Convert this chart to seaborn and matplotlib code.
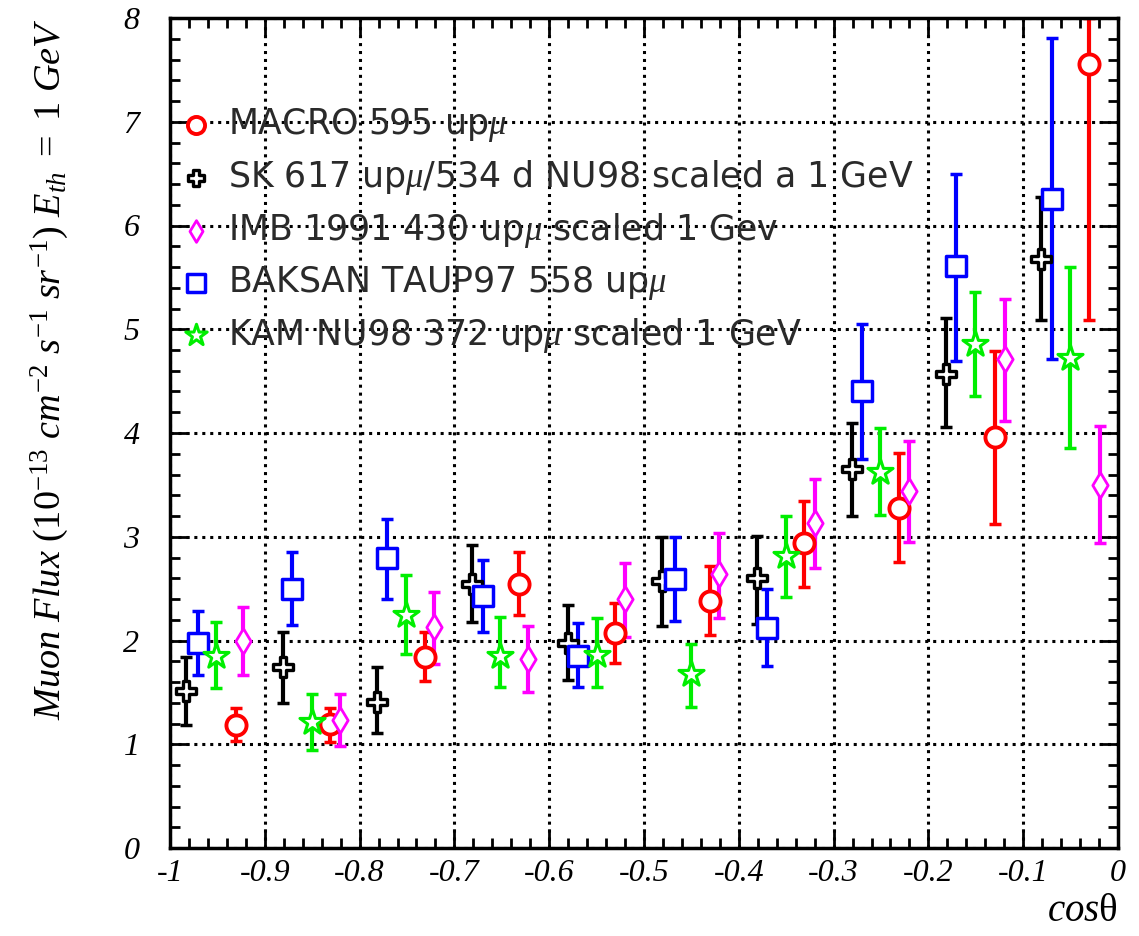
import numpy as np
import matplotlib
matplotlib.use("Agg")
import matplotlib.pyplot as plt
import seaborn as sns
from matplotlib.ticker import MultipleLocator

# ---- measurements: cos(theta), flux, lower / upper error-bar ends ----
macro_x = [-0.930, -0.831, -0.731, -0.632, -0.531, -0.430, -0.331, -0.231, -0.130, -0.031]
macro_y = [1.19, 1.20, 1.84, 2.54, 2.07, 2.38, 2.94, 3.28, 3.96, 7.56]
macro_lo = [1.03, 1.02, 1.61, 2.25, 1.78, 2.05, 2.52, 2.76, 3.12, 5.09]
macro_hi = [1.35, 1.35, 2.08, 2.85, 2.36, 2.72, 3.34, 3.81, 4.79, 8.00]

sk_x = [-0.983, -0.881, -0.782, -0.681, -0.580, -0.481, -0.381, -0.281, -0.181, -0.081]
sk_y = [1.51, 1.74, 1.41, 2.54, 1.98, 2.57, 2.60, 3.65, 4.57, 5.68]
sk_lo = [1.19, 1.40, 1.11, 2.18, 1.62, 2.14, 2.16, 3.20, 4.06, 5.09]
sk_hi = [1.84, 2.08, 1.74, 2.92, 2.34, 3.00, 3.01, 4.10, 5.11, 6.27]

imb_x = [-0.923, -0.821, -0.721, -0.622, -0.520, -0.421, -0.320, -0.220, -0.119, -0.019]
imb_y = [2.00, 1.23, 2.13, 1.82, 2.40, 2.64, 3.13, 3.44, 4.71, 3.50]
imb_lo = [1.67, 0.98, 1.77, 1.50, 2.03, 2.22, 2.70, 2.95, 4.12, 2.94]
imb_hi = [2.32, 1.48, 2.47, 2.14, 2.75, 3.04, 3.56, 3.92, 5.29, 4.07]

baksan_x = [-0.970, -0.871, -0.771, -0.670, -0.570, -0.467, -0.370, -0.270, -0.171, -0.070]
baksan_y = [1.98, 2.50, 2.80, 2.43, 1.85, 2.59, 2.12, 4.40, 5.61, 6.26]
baksan_lo = [1.67, 2.15, 2.40, 2.08, 1.55, 2.19, 1.75, 3.75, 4.69, 4.71]
baksan_hi = [2.28, 2.85, 3.17, 2.78, 2.17, 3.00, 2.50, 5.05, 6.50, 7.81]

kam_x = [-0.951, -0.850, -0.751, -0.652, -0.550, -0.450, -0.350, -0.251, -0.151, -0.051]
kam_y = [1.85, 1.21, 2.25, 1.85, 1.86, 1.68, 2.81, 3.62, 4.86, 4.72]
kam_lo = [1.54, 0.94, 1.87, 1.55, 1.55, 1.36, 2.42, 3.21, 4.36, 3.86]
kam_hi = [2.18, 1.48, 2.63, 2.23, 2.22, 1.97, 3.20, 4.05, 5.36, 5.60]

labels = [
    r"MACRO 595 up$\mu$",
    r"SK 617 up$\mu$/534 d NU98 scaled a 1 GeV",
    r"IMB 1991 430 up$\mu$ scaled 1 Gev",
    r"BAKSAN TAUP97 558 up$\mu$",
    r"KAM NU98 372 up$\mu$ scaled 1 GeV",
]

x_ticks = [-1.0, -0.9, -0.8, -0.7, -0.6, -0.5, -0.4, -0.3, -0.2, -0.1, 0.0]
x_tick_labels = ["-1", "-0.9", "-0.8", "-0.7", "-0.6", "-0.5", "-0.4", "-0.3", "-0.2", "-0.1", "0"]
y_ticks = [0, 1, 2, 3, 4, 5, 6, 7, 8]
y_tick_labels = ["0", "1", "2", "3", "4", "5", "6", "7", "8"]

# ---- style ----
sns.set_theme(style="white")
plt.rcParams.update({
    "font.family": ["DejaVu Sans"],
    "mathtext.fontset": "custom",
    "mathtext.rm": "Liberation Serif",
    "mathtext.it": "Liberation Serif:italic",
    "mathtext.bf": "Liberation Serif:bold",
})

fig = plt.figure(figsize=(11.39, 9.36), dpi=100)
fig.patch.set_facecolor("white")
ax = fig.add_axes([170 / 1139, 1 - 848 / 936, 948 / 1139, 830 / 936])
ax.set_facecolor("white")

ax.grid(True, which="major", color="black", linestyle=(0, (1, 1.6)), linewidth=2.2)
ax.set_axisbelow(True)

series = [
    (macro_x, macro_y, macro_lo, macro_hi),
    (sk_x, sk_y, sk_lo, sk_hi),
    (imb_x, imb_y, imb_lo, imb_hi),
    (baksan_x, baksan_y, baksan_lo, baksan_hi),
    (kam_x, kam_y, kam_lo, kam_hi),
]
colors = ["#ff0000", "#000000", "#ff00ff", "#0000ff", "#00ee00"]
markers = ["o", "P", "d", "s", "*"]
msizes = [14.5, 14, 13, 15, 19]
mwidths = [2.8, 2.4, 2.0, 2.5, 2.2]

handles = []
for (xs, ys, lo, hi), c, m, ms, mw, lab in zip(series, colors, markers, msizes, mwidths, labels):
    xs = np.asarray(xs)
    ys = np.asarray(ys)
    yerr = [ys - np.asarray(lo), np.asarray(hi) - ys]
    ax.errorbar(xs, ys, yerr=yerr, fmt="none", ecolor=c, elinewidth=3,
                capsize=4.5, capthick=2.5, zorder=2)
    sns.scatterplot(x=xs, y=ys, marker=m, s=ms ** 2, color=c, facecolor="white",
                    edgecolor=c, linewidth=mw, zorder=3, ax=ax, legend=False, label=lab)
    handles.append(ax.collections[-1])

ax.set_xlim(-1, 0)
ax.set_ylim(0, 8)
ax.set_xticks(x_ticks, x_tick_labels)
ax.set_yticks(y_ticks, y_tick_labels)
ax.xaxis.set_minor_locator(MultipleLocator(0.02))
ax.yaxis.set_minor_locator(MultipleLocator(0.2))
ax.tick_params(which="both", direction="in", top=True, right=True,
               bottom=True, left=True, color="black")
ax.tick_params(which="major", length=14, width=2)
ax.tick_params(which="minor", length=7, width=2)
ax.tick_params(axis="y", pad=22)
ax.tick_params(axis="x", pad=8)
for t in ax.get_xticklabels() + ax.get_yticklabels():
    t.set_fontfamily("Liberation Serif")
    t.set_fontstyle("italic")
    t.set_fontsize(23)
    t.set_color("black")

for s in ax.spines.values():
    s.set_linewidth(2.5)
    s.set_color("black")

ax.set_ylabel(r"$\mathit{Muon\ Flux\ (10^{-13}\ cm^{-2}\ s^{-1}\ sr^{-1})\ E_{th}\ =\ 1\ GeV}$",
              fontsize=27.5, loc="top", color="black")
ax.yaxis.set_label_coords(-0.127, 1.0)
ax.yaxis.label.set_va("center")

ax.set_xlabel(r"$\mathit{cos}$θ", fontsize=28, loc="right", color="black",
              fontfamily="Liberation Serif")
ax.xaxis.set_label_coords(1.0, -0.077)
ax.xaxis.label.set_va("center")

leg = ax.legend(handles=handles, labels=labels, loc="upper left",
                bbox_to_anchor=(0.009, 0.894), frameon=False, fontsize=25,
                labelspacing=0.4, handlelength=1.0, handletextpad=0.42,
                borderpad=0, borderaxespad=0, markerscale=0.85,
                labelcolor="#2a2a2a")

fig.savefig("out.png", dpi=100, facecolor="white")
